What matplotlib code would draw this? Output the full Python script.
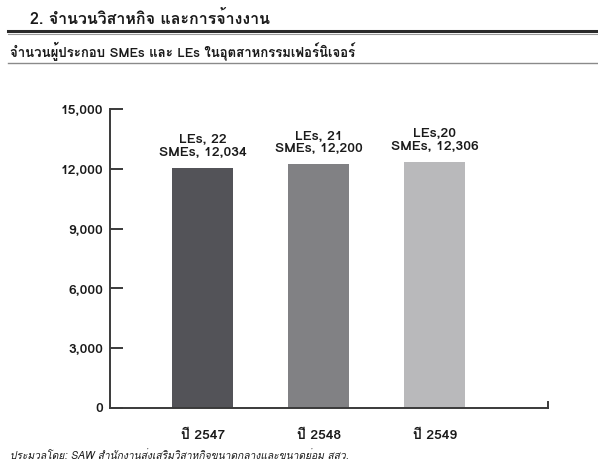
import matplotlib
matplotlib.use("Agg")
import matplotlib.pyplot as plt
from matplotlib import font_manager
from matplotlib.ft2font import FT2Font
from matplotlib.ticker import FuncFormatter


years = ["ปี 2547", "ปี 2548", "ปี 2549"]
smes = [12034, 12200, 12306]
les = [22, 21, 20]
les_sep = [", ", ", ", ","]
bar_colors = ["#535358", "#818184", "#b9b9bb"]

header = "2. จำนวนวิสาหกิจ และการจ้างงาน"
title = "จำนวนผู้ประกอบ SMEs และ LEs ในอุตสาหกรรมเฟอร์นิเจอร์"
source = "ประมวลโดย: SAW สำนักงานส่งเสริมวิสาหกิจขนาดกลางและขนาดย่อม สสว."
y_ticks = [0, 3000, 6000, 9000, 12000, 15000]


def find_thai_font():
    # look for any installed font that has Thai glyphs
    for path in sorted(font_manager.findSystemFonts()):
        try:
            cmap = FT2Font(path).get_charmap()
        except Exception:
            continue
        if 0x0E08 in cmap and 0x0E33 in cmap:
            try:
                return font_manager.FontProperties(fname=path).get_name(), path
            except Exception:
                continue
    return None, None


thai_name, thai_path = find_thai_font()
if thai_path:
    font_manager.fontManager.addfont(thai_path)
    plt.rcParams["font.family"] = [thai_name, "DejaVu Sans"]
else:
    plt.rcParams["font.family"] = ["DejaVu Sans"]

fig = plt.figure(figsize=(5.98, 4.71), dpi=100)
fig.patch.set_facecolor("white")

# header block
fig.text(30 / 598, 1 - 18 / 471, header, fontsize=11.5, fontweight="bold",
         va="center", ha="left", color="#1a1a1a")
fig.add_artist(plt.Line2D([8 / 598, 1], [1 - 31 / 471] * 2, color="#2a2a2a", lw=2.2))
fig.add_artist(plt.Line2D([8 / 598, 1], [1 - 34 / 471] * 2, color="#9a9a9a", lw=0.8))
fig.text(10 / 598, 1 - 51 / 471, title, fontsize=9.5, fontweight="bold",
         va="center", ha="left", color="#1a1a1a")
fig.add_artist(plt.Line2D([8 / 598, 1], [1 - 63 / 471] * 2, color="#8a8a8a", lw=1.0))
fig.text(10 / 598, 1 - 456 / 471, source, fontsize=7.4, style="italic",
         va="center", ha="left", color="#1a1a1a")

ax = fig.add_axes([110 / 598, 63 / 471, 438 / 598, 299 / 471])
x = list(range(len(years)))
totals = [s + l for s, l in zip(smes, les)]
bars = ax.bar(x, totals, width=0.525, color=bar_colors, zorder=2)

for xi, tot, s, l, sep in zip(x, totals, smes, les, les_sep):
    ax.annotate(f"LEs{sep}{l}\nSMEs, {s:,}", (xi, tot), xytext=(0, 7),
                textcoords="offset points", ha="center", va="bottom",
                fontsize=10, fontweight="bold", linespacing=1.1, color="#1a1a1a")

ax.set_xlim(-0.8, 2.974)
ax.set_ylim(0, 15000)
ax.set_yticks(y_ticks)
ax.yaxis.set_major_formatter(FuncFormatter(lambda v, p: f"{int(v):,}"))
ax.set_xticks(x)
ax.set_xticklabels(years, fontweight="bold")
for lbl in ax.get_yticklabels():
    lbl.set_fontweight("bold")

for side in ["top", "right"]:
    ax.spines[side].set_visible(False)
for side in ["left", "bottom"]:
    ax.spines[side].set_color("#3a3a3a")
    ax.spines[side].set_linewidth(1.4)

ax.tick_params(axis="y", direction="in", length=9, width=1.4, color="#3a3a3a",
               labelsize=10, pad=5, labelcolor="#1a1a1a")
ax.tick_params(axis="x", length=0, labelsize=10, pad=16, labelcolor="#1a1a1a")
ax.plot([1, 1], [0, 0.02], transform=ax.transAxes, color="#3a3a3a", lw=1.4,
        clip_on=False)

fig.savefig("out.png", dpi=100, facecolor="white")
